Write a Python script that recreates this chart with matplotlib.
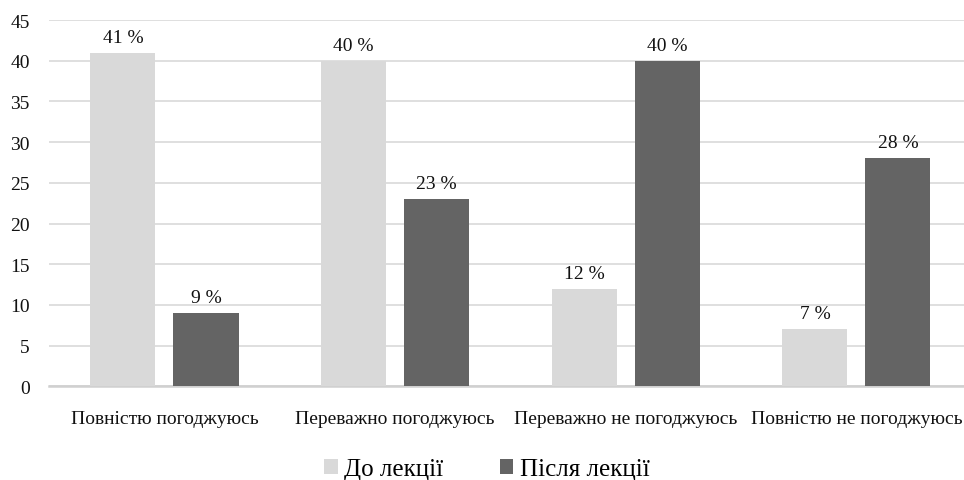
import matplotlib
matplotlib.use("Agg")
import matplotlib.pyplot as plt
import numpy as np

categories = ["Повністю погоджуюсь", "Переважно погоджуюсь",
              "Переважно не погоджуюсь", "Повністю не погоджуюсь"]
before = [41, 40, 12, 7]
after = [9, 23, 40, 28]
series_names = ["До лекції", "Після лекції"]
yticks = [0, 5, 10, 15, 20, 25, 30, 35, 40, 45]

plt.rcParams["font.family"] = ["Liberation Serif", "DejaVu Serif"]

fig = plt.figure(figsize=(9.64, 4.81), dpi=100)
ax = fig.add_axes([0.051, 0.1948, 0.957, 0.7615])

x = np.arange(len(categories))
w = 0.282
off = 0.18
b1 = ax.bar(x - off, before, w, color="#d9d9d9", label=series_names[0], zorder=3)
b2 = ax.bar(x + off, after, w, color="#646464", label=series_names[1], zorder=3)

for bars, vals in ((b1, before), (b2, after)):
    for r, v in zip(bars, vals):
        ax.annotate(f"{v} %", (r.get_x() + r.get_width() / 2, v),
                    xytext=(0, 5), textcoords="offset points",
                    ha="center", va="bottom", fontsize=14, color="#111111")

ax.set_xlim(-0.5, len(categories) - 0.5)
ax.set_ylim(0, 45)
ax.set_yticks(yticks)
ax.yaxis.grid(True, color="#d9d9d9", linewidth=1.2, zorder=0)
ax.set_axisbelow(True)
for s in ("top", "right", "left"):
    ax.spines[s].set_visible(False)
ax.spines["bottom"].set_color("#d0d0d0")
ax.spines["bottom"].set_linewidth(1.8)
ax.tick_params(axis="both", length=0, labelsize=14, colors="#111111")
ax.tick_params(axis="y", pad=14)
ax.tick_params(axis="x", pad=17)
ax.set_xticks(x)
ax.set_xticklabels(categories, fontsize=14)

fig.legend(handles=[b1, b2], labels=series_names, loc="center",
           bbox_to_anchor=(0.505, 0.022), ncol=2, frameon=False, fontsize=18,
           handlelength=0.55, handleheight=0.55, handletextpad=0.25,
           columnspacing=2.25)

fig.savefig("out.png", dpi=100)
